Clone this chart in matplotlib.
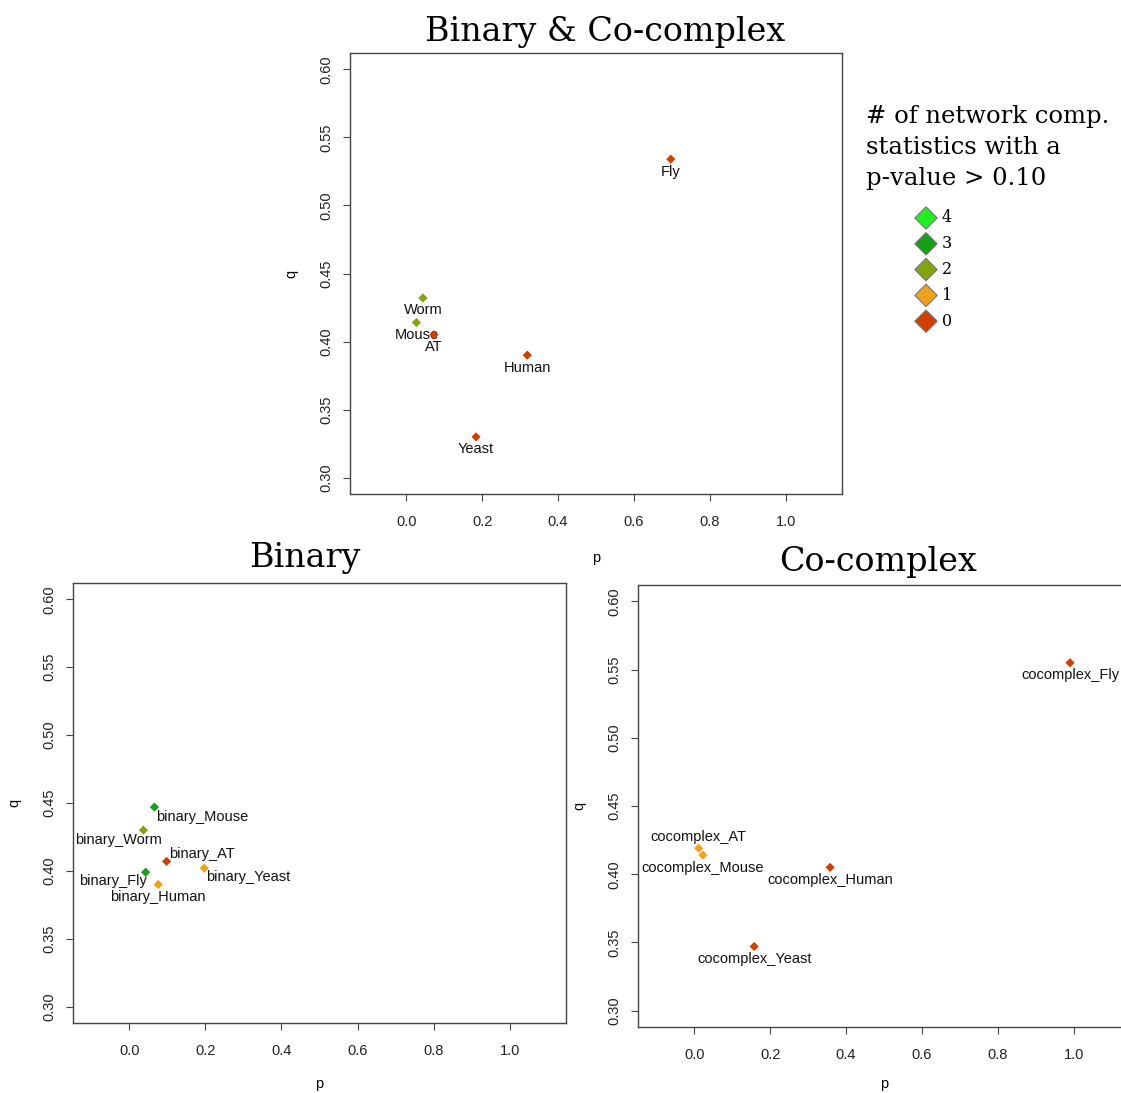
import numpy as np
import matplotlib.pyplot as plt

# species results, combined networks
all_names = ['Fly', 'Worm', 'Mouse', 'AT', 'Human', 'Yeast']
all_p = [0.697, 0.044, 0.027, 0.073, 0.319, 0.184]
all_q = [0.534, 0.432, 0.414, 0.405, 0.390, 0.330]
all_n = [0, 2, 2, 0, 0, 0]

# binary networks
bin_names = ['binary_Mouse', 'binary_Worm', 'binary_AT', 'binary_Yeast', 'binary_Fly', 'binary_Human']
bin_p = [0.066, 0.037, 0.098, 0.197, 0.043, 0.076]
bin_q = [0.447, 0.430, 0.407, 0.402, 0.399, 0.390]
bin_n = [3, 2, 0, 1, 3, 1]

# co-complex networks
cc_names = ['cocomplex_Fly', 'cocomplex_AT', 'cocomplex_Mouse', 'cocomplex_Human', 'cocomplex_Yeast']
cc_p = [0.990, 0.012, 0.023, 0.358, 0.158]
cc_q = [0.555, 0.419, 0.414, 0.405, 0.347]
cc_n = [0, 1, 1, 0, 0]

legend_levels = [4, 3, 2, 1, 0]
level_colors = {4: '#22EE22', 3: '#15A015', 2: '#82A412', 1: '#EEA11F', 0: '#CF3F00'}

SANS = 'Liberation Sans'
SERIF = 'DejaVu Serif'
FS = 10.5

W, H = 1121, 1093
fig = plt.figure(figsize=(W / 100, H / 100), dpi=100)


def px_axes(x0, y0, x1, y1):
    # axes from pixel box (top-left origin)
    return fig.add_axes([x0 / W, 1 - y1 / H, (x1 - x0) / W, (y1 - y0) / H])


def scatter_panel(ax, names, p, q, n, offsets, xpad=16):
    ax.set_xlim(-0.148, 1.148)
    ax.set_ylim(0.288, 0.612)
    ax.set_xticks(np.arange(0, 1.01, 0.2))
    ax.set_xticklabels(['0.0', '0.2', '0.4', '0.6', '0.8', '1.0'], fontfamily=SANS, fontsize=FS)
    ax.set_yticks(np.arange(0.30, 0.601, 0.05))
    ax.set_yticklabels(['0.30', '0.35', '0.40', '0.45', '0.50', '0.55', '0.60'],
                       fontfamily=SANS, fontsize=FS, rotation=90, va='center')
    ax.tick_params(length=5, width=0.8, color='#444444', labelcolor='#222222')
    ax.tick_params(axis='x', pad=10)
    ax.tick_params(axis='y', pad=7)
    for s in ax.spines.values():
        s.set_color('#444444')
        s.set_linewidth(1.0)
    ax.set_xlabel('p', fontfamily=SANS, fontsize=FS, labelpad=xpad)
    ax.set_ylabel('q', fontfamily=SANS, fontsize=FS, labelpad=15)

    for name, x, y, k in zip(names, p, q, n):
        dx, dy, ha = offsets.get(name, (0, -12.5, 'center'))
        ax.annotate(name, (x, y), xytext=(dx, dy), textcoords='offset pixels',
                    ha=ha, va='center', fontfamily=SANS, fontsize=FS, color='#111111')
    ax.scatter(p, q, marker='D', s=22, c=[level_colors[k] for k in n],
               edgecolors='none', zorder=3)


# top panel
ax_top = px_axes(350, 53, 842, 494)
scatter_panel(ax_top, all_names, all_p, all_q, all_n, {})

# binary panel
ax_bin = px_axes(73, 583, 566, 1023)
bin_offsets = {
    'binary_Mouse': (1.5, -10, 'left'),
    'binary_Worm': (19, -10, 'right'),
    'binary_AT': (2.5, 7.5, 'left'),
    'binary_Yeast': (2, -9, 'left'),
    'binary_Fly': (1, -8.5, 'right'),
    'binary_Human': (0, -12.5, 'center'),
}
scatter_panel(ax_bin, bin_names, bin_p, bin_q, bin_n, bin_offsets, xpad=14)

# co-complex panel (runs past the right edge)
ax_cc = px_axes(638, 585, 1130, 1027)
cc_offsets = {'cocomplex_AT': (0, 11.5, 'center')}
scatter_panel(ax_cc, cc_names, cc_p, cc_q, cc_n, cc_offsets, xpad=11)

# panel titles
fig.text(605 / W, 1 - 41 / H, 'Binary & Co-complex', ha='center', va='baseline',
         fontfamily=SERIF, fontsize=24)
fig.text(305 / W, 1 - 567 / H, 'Binary', ha='center', va='baseline',
         fontfamily=SERIF, fontsize=24)
fig.text(878 / W, 1 - 571 / H, 'Co-complex', ha='center', va='baseline',
         fontfamily=SERIF, fontsize=24)

# legend
title_lines = ['# of network comp.', 'statistics with a', 'p-value > 0.10']
for i, line in enumerate(title_lines):
    fig.text(866 / W, 1 - (117 + 31 * i) / H, line, ha='left', va='center',
             fontfamily=SERIF, fontsize=17.5)

leg_ax = fig.add_axes([0, 0, 1, 1], facecolor='none')
leg_ax.set_xlim(0, W)
leg_ax.set_ylim(H, 0)
leg_ax.axis('off')
leg_y = 218 + 25.8 * np.arange(len(legend_levels))
leg_ax.scatter(np.full(len(legend_levels), 926), leg_y, marker='D', s=130,
               c=[level_colors[k] for k in legend_levels], edgecolors='#777777', linewidths=0.8)
for k, y in zip(legend_levels, leg_y):
    leg_ax.text(942, y, str(k), ha='left', va='center', fontfamily=SERIF, fontsize=11.5)

fig.savefig('out.png', dpi=100)
